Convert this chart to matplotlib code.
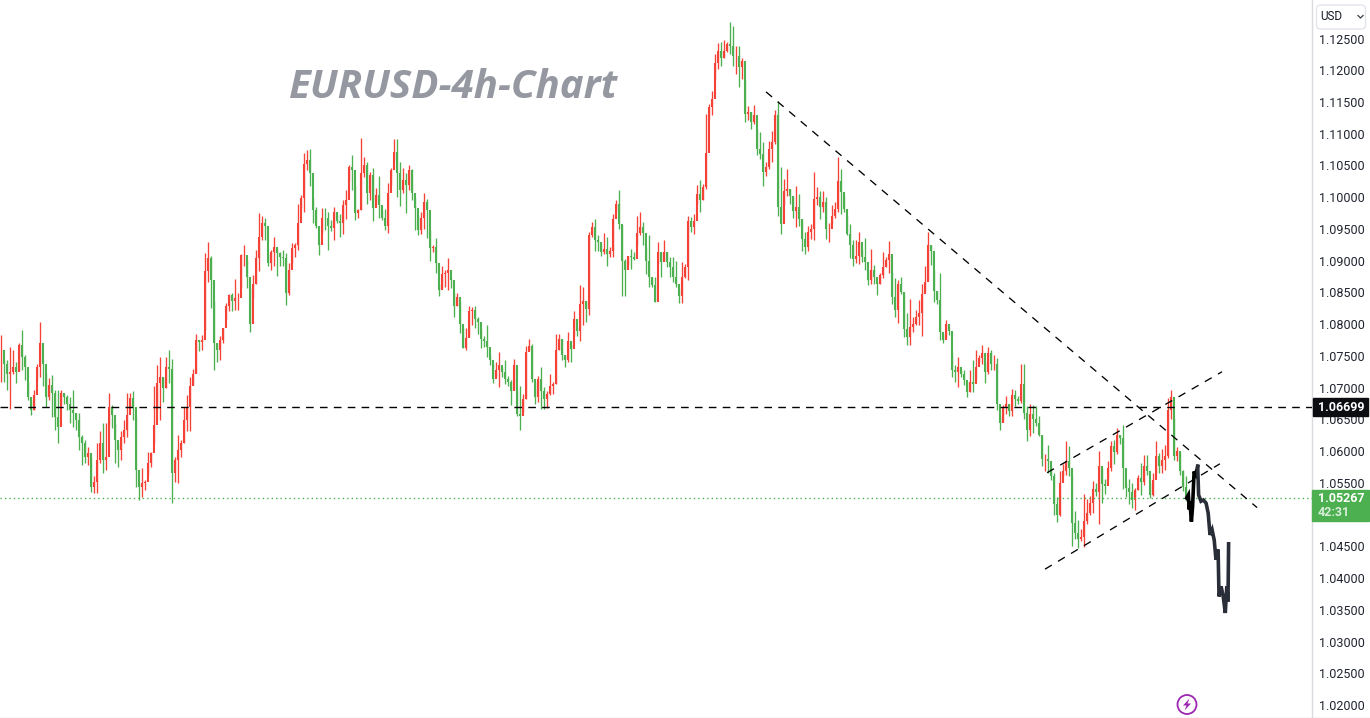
import matplotlib
matplotlib.use("Agg")
import matplotlib.pyplot as plt
from matplotlib.patches import Rectangle, FancyBboxPatch, Circle, Polygon
import numpy as np

# Prices are given in units of 0.0001 (pips)
highs = [
10783,10744,10744,10764,10759,10741,10770,10791,10751,10709,
10680,10696,10738,10804,10744,10722,10715,10720,10696,10696,
10696,10691,10688,10686,10697,10660,10660,10625,10618,10607,
10591,10560,10612,10631,10644,10644,10691,10673,10644,10612,
10631,10649,10692,10691,10694,10654,10552,10573,10555,10599,
10599,10702,10736,10749,10717,10749,10759,10745,10591,10625,
10618,10670,10688,10716,10730,10785,10775,10783,10912,10929,
10908,10837,10770,10782,10794,10833,10848,10849,10871,10849,
10911,10925,10901,10857,10878,10917,10975,10970,10967,10911,
10917,10937,10920,10914,10917,10912,10896,10928,10928,10990,
11004,11069,11075,11076,10998,10984,10930,10983,10983,10977,
10964,10984,10972,10974,10995,11012,11051,11067,11019,10981,
11094,11063,11056,11040,11046,11014,11034,10980,10981,11022,
11046,11091,11091,11056,11046,11038,11051,11044,10998,10972,
10977,11006,10997,10949,10925,10935,10864,10891,10885,10904,
10872,10849,10849,10836,10794,10794,10828,10827,10829,10811,
10793,10781,10799,10753,10737,10740,10756,10732,10743,10719,
10712,10745,10697,10703,10690,10766,10777,10769,10709,10719,
10732,10701,10695,10722,10709,10785,10785,10777,10751,10787,
10769,10821,10796,10861,10858,10837,10945,10961,10966,10940,
10927,10944,10937,10921,10974,10995,11011,10956,10902,10908,
10919,10914,10971,10976,10961,10921,10940,10874,10874,10929,
10914,10933,10914,10906,10906,10900,10856,10898,10894,10971,
10969,10973,11019,11027,11021,11131,11147,11168,11226,11243,
11244,11248,11245,11276,11269,11239,11239,11220,11186,11144,
11134,11145,11108,11102,11087,11055,11089,11105,11138,11151,
11047,11029,11044,11013,11000,11018,11005,10966,10945,10955,
10958,11040,11016,11010,11010,11000,10960,10987,10992,11064,
11044,11002,10971,10958,10932,10932,10945,10919,10935,10885,
10918,10893,10867,10881,10914,10906,10931,10882,10872,10869,
10875,10848,10817,10840,10811,10822,10838,10864,10891,10945,
10924,10885,10853,10880,10785,10807,10796,10756,10735,10749,
10727,10727,10709,10727,10743,10759,10751,10767,10741,10764,
10760,10751,10746,10655,10672,10687,10674,10698,10697,10687,
10737,10737,10671,10674,10672,10671,10655,10624,10595,10609,
10576,10566,10527,10569,10579,10616,10608,10563,10506,10492,
10477,10532,10524,10529,10553,10550,10600,10574,10556,10584,
10616,10618,10637,10626,10641,10550,10556,10550,10542,10563,
10581,10594,10594,10550,10565,10616,10597,10603,10610,10684,
10696,10652,10606,10597,10571,10560]

lows = [
10709,10709,10696,10667,10722,10707,10728,10728,10712,10680,
10657,10665,10712,10717,10702,10670,10680,10654,10633,10612,
10673,10675,10665,10644,10638,10633,10602,10578,10581,10578,
10536,10534,10534,10581,10565,10570,10641,10636,10581,10575,
10586,10612,10623,10670,10649,10544,10523,10528,10539,10562,
10575,10612,10665,10649,10678,10699,10707,10518,10552,10549,
10591,10612,10631,10631,10704,10725,10757,10759,10791,10867,
10825,10728,10741,10744,10770,10807,10820,10820,10822,10822,
10859,10891,10857,10788,10841,10864,10883,10933,10933,10891,
10885,10891,10876,10891,10891,10830,10846,10896,10906,10917,
10983,10977,11043,11017,10959,10951,10909,10943,10949,10917,
10946,10933,10959,10938,10942,10965,11025,11011,10964,10967,
10980,11032,10990,10996,10963,10990,10967,10964,10949,10943,
11019,11059,11001,10986,11006,10975,11011,10996,10949,10941,
10942,10950,10935,10900,10914,10880,10845,10857,10859,10854,
10857,10812,10828,10786,10762,10759,10782,10798,10794,10785,
10763,10764,10748,10735,10707,10716,10701,10716,10706,10703,
10672,10698,10656,10634,10661,10682,10759,10709,10675,10677,
10667,10667,10668,10689,10690,10706,10759,10743,10732,10740,
10740,10781,10782,10774,10799,10803,10814,10937,10916,10916,
10907,10911,10891,10906,10906,10979,10950,10845,10845,10893,
10887,10901,10924,10940,10924,10879,10859,10859,10835,10895,
10874,10900,10890,10874,10866,10859,10833,10833,10872,10869,
10945,10942,10990,10977,10995,11013,11124,11129,11186,11202,
11207,11220,11228,11226,11207,11194,11173,11186,11118,11121,
11108,11115,11066,11060,11018,11034,11045,11055,11084,10971,
10942,10987,11002,10989,10968,10953,10955,10916,10911,10916,
10934,10932,10987,10966,10976,10934,10929,10960,10968,10976,
10974,10976,10940,10905,10892,10897,10895,10898,10885,10861,
10864,10864,10846,10864,10872,10890,10880,10832,10812,10802,
10848,10780,10767,10767,10788,10798,10798,10781,10853,10869,
10893,10835,10832,10775,10771,10780,10783,10717,10709,10701,
10717,10704,10685,10693,10693,10712,10741,10738,10707,10722,
10727,10727,10665,10634,10647,10658,10656,10655,10671,10674,
10676,10650,10616,10624,10629,10640,10624,10577,10569,10566,
10555,10500,10488,10498,10561,10563,10561,10450,10461,10448,
10458,10449,10485,10500,10503,10529,10485,10519,10532,10556,
10569,10579,10595,10611,10540,10527,10516,10510,10508,10539,
10531,10547,10563,10526,10529,10565,10565,10565,10571,10589,
10650,10586,10584,10563,10537,10521]

closes = [
10759,10738,10722,10725,10733,10725,10767,10749,10733,10686,
10665,10688,10733,10770,10738,10686,10704,10691,10654,10638,
10691,10686,10675,10665,10660,10649,10623,10612,10591,10597,
10544,10552,10586,10612,10586,10591,10670,10657,10618,10602,
10623,10633,10657,10683,10670,10570,10544,10549,10552,10581,
10597,10641,10707,10717,10699,10733,10730,10565,10586,10602,
10612,10649,10670,10702,10722,10775,10772,10775,10883,10904,
10870,10770,10759,10775,10794,10828,10846,10836,10841,10841,
10909,10909,10875,10801,10864,10904,10938,10959,10954,10896,
10914,10922,10912,10906,10904,10849,10885,10920,10925,10959,
10998,11053,11059,11038,10980,10954,10925,10968,10967,10954,
10951,10977,10962,10959,10988,10996,11048,11043,10975,10980,
11038,11051,11006,11035,10983,11004,10988,10967,10954,11006,
11043,11072,11038,11012,11027,11019,11043,11006,10983,10949,
10967,10993,10980,10920,10922,10896,10854,10879,10880,10885,
10870,10828,10843,10801,10762,10778,10820,10822,10808,10803,
10777,10774,10764,10743,10714,10727,10735,10724,10714,10709,
10695,10735,10659,10656,10682,10756,10766,10714,10685,10714,
10695,10682,10690,10703,10706,10759,10777,10751,10743,10774,
10761,10808,10790,10832,10837,10824,10940,10953,10932,10929,
10914,10919,10911,10916,10966,10990,10958,10900,10885,10907,
10906,10903,10943,10953,10943,10900,10874,10861,10835,10914,
10898,10914,10898,10890,10874,10864,10845,10874,10890,10963,
10953,10963,11005,10995,11016,11070,11142,11155,11212,11231,
11220,11231,11241,11239,11223,11223,11205,11215,11131,11134,
11118,11129,11076,11068,11039,11047,11076,11087,11129,10984,
10958,11010,11013,11002,10979,10984,10966,10934,10921,10945,
10950,10997,11000,10984,10992,10950,10950,10971,10981,11026,
11008,10981,10942,10924,10903,10908,10929,10906,10898,10869,
10885,10874,10864,10877,10890,10901,10911,10843,10822,10864,
10851,10793,10780,10796,10801,10811,10817,10848,10867,10924,
10916,10853,10838,10788,10775,10801,10790,10727,10725,10733,
10722,10712,10693,10709,10706,10733,10746,10754,10725,10754,
10738,10738,10675,10645,10668,10674,10663,10689,10682,10679,
10705,10660,10634,10658,10650,10645,10626,10587,10587,10584,
10561,10516,10500,10550,10569,10584,10574,10487,10471,10461,
10464,10490,10503,10519,10540,10535,10576,10548,10545,10574,
10608,10598,10626,10621,10574,10542,10535,10523,10539,10558,
10552,10576,10568,10531,10555,10592,10576,10586,10592,10665,
10686,10592,10600,10568,10544,10526]

forecast_bar = [395.2,395.8,396.1,396.3,396.8,397.2,397.7,398.3,398.9,399.2,400.0,400.8,401.7,
                402.4,403.0,403.7,404.4,405.0,405.7,406.0,406.7,407.4,408.1,408.6,409.0,409.2]
forecast_px = [10526,10531,10508,10521,10489,10513,10568,10563,10576,10531,10521,10523,10518,
               10502,10468,10476,10460,10429,10445,10371,10387,10371,10345,10387,10363,10454]

trend_bars = [(255.0, 418.7), (348.0, 406.3), (348.7, 407.0)]
trend_px = [(11166, 10511), (10414, 10580), (10566, 10725)]

level_price = 1.06699
last_price = 1.05267
tick_prices = [1.02 + 0.005 * k for k in range(22)]
tick_labels = [f"{p:.5f}" if k != 6 else "" for k, p in enumerate(tick_prices)]

RED, GREEN = "#f44336", "#4caf50"
W, H = 1370, 718
fig = plt.figure(figsize=(W / 100, H / 100), dpi=100, facecolor="white")
ax = fig.add_axes([0, 1 / H, 1312 / W, 717 / H])
ax.set_xlim(-1 / 3, 1312 / 3 - 1 / 3)
ax.set_ylim(1.01811, 1.13107)

h = np.array(highs) / 1e4
l = np.array(lows) / 1e4
c = np.array(closes) / 1e4
o = np.r_[c[0], c[:-1]]
x = np.arange(len(c))
cols = [GREEN if cc < oo else RED for cc, oo in zip(c, o)]
ax.vlines(x, l, h, colors=cols, lw=0.95, zorder=2)
ax.vlines(x, np.minimum(o, c), np.maximum(o, c), colors=cols, lw=1.5, zorder=2)

ax.axhline(level_price, color="black", lw=1.0, dashes=(5.5, 4.5), zorder=4)
ax.axhline(last_price, color=GREEN, lw=1.0, dashes=(1, 2.2), zorder=3)
for (x0, x1), (p0, p1) in zip(trend_bars, trend_px):
    ax.plot([x0, x1], [p0 / 1e4, p1 / 1e4], color="black", lw=0.95, dashes=(6, 5.5), zorder=4)

fx = np.array(forecast_bar)
fp = np.array(forecast_px) / 1e4
ax.plot(fx[:9], fp[:9], color="black", lw=2.6, zorder=5, solid_joinstyle="miter")
ax.plot(fx[8:], fp[8:], color="#2a2e39", lw=2.6, zorder=5, solid_joinstyle="miter")

for s in ("top", "left", "bottom"):
    ax.spines[s].set_visible(False)
ax.spines["right"].set_color("#d9dbe0")
ax.spines["right"].set_linewidth(1.0)
ax.set_xticks([])
ax.yaxis.tick_right()
ax.set_yticks(tick_prices)
ax.set_yticklabels(tick_labels, family="Roboto", fontsize=9, color="#1f2430")
ax.tick_params(axis="y", length=0, pad=5)

# overlay in screen pixels for the chart chrome
ov = fig.add_axes([0, 0, 1, 1], facecolor="none")
ov.set_xlim(0, W); ov.set_ylim(H, 0); ov.axis("off")
ov.plot([0, W], [717.5, 717.5], color="#d9dbe0", lw=1)
ov.add_patch(Rectangle((1313, 398), 55, 18, color="#0c0d11", zorder=6))
ov.text(1341, 407.5, "1.06699", color="white", family="Roboto", fontweight="bold", fontsize=9, ha="center", va="center", zorder=7)
ov.add_patch(Rectangle((1312, 490), 57, 31, color=GREEN, zorder=6))
ov.text(1341, 498.5, "1.05267", color="white", family="Roboto", fontweight="bold", fontsize=9, ha="center", va="center", zorder=7)
ov.text(1334, 513, "42:31", color="#d7edd8", family="Roboto", fontweight="bold", fontsize=9, ha="center", va="center", zorder=7)
ov.add_patch(FancyBboxPatch((1316.5, 5), 49, 24, boxstyle="round,pad=0,rounding_size=4",
                            fc="white", ec="#e0e3eb", lw=0.9, zorder=6, mutation_scale=1))
ov.text(1320, 16.5, "USD", color="#131722", family="Roboto", fontsize=8.4, ha="left", va="center", zorder=7)
ov.plot([1358, 1360.5, 1363], [15.5, 18, 15.5], color="#3a3e48", lw=0.9, zorder=7)

ov.text(289, 87, "EURUSD-4h-Chart", color="#9598a1", family="Open Sans", fontweight="bold",
        fontstyle="italic", fontsize=29, ha="left", va="center")
ov.add_patch(Circle((1187, 704.5), 9.5, fc="white", ec="#9c27b0", lw=1.3))
ov.add_patch(Polygon([(1189.5, 698.5), (1183, 705.5), (1186.5, 705.5), (1184.5, 710.5),
                      (1191, 703.5), (1187.5, 703.5)], closed=True, fc="#9c27b0", ec="none"))
fig.savefig("out.png", dpi=100)
